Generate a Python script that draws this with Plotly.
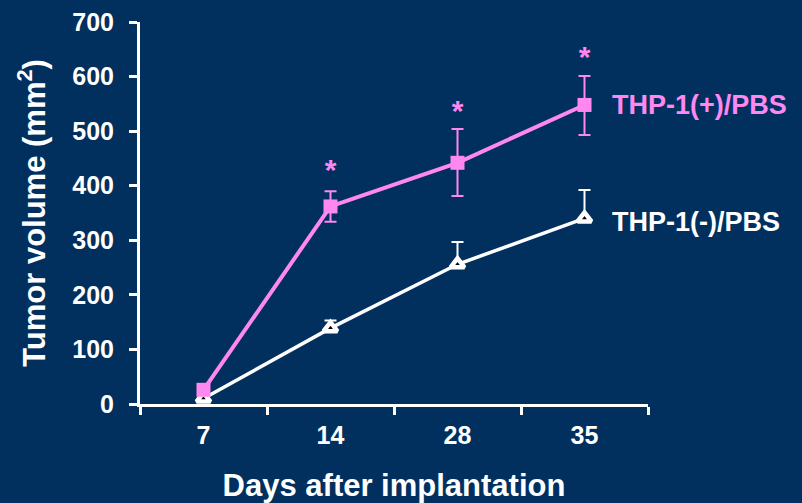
import plotly.graph_objects as go

days = ["7", "14", "28", "35"]
hidden_labels = ["10", "20", "30", "40"]
pos_mean = [26, 362, 442, 548]
pos_err_up = [0, 28, 62, 53]
pos_err_down = [0, 28, 61, 55]
neg_mean = [10, 139, 256, 340]
neg_err_up = [0, 14, 41, 52]
star_y = [425, 533, 631]
star_days = ["14", "28", "35"]

BG = "#01305f"
PINK = "#ff88f0"
FONT = "Liberation Sans, Arial, sans-serif"

fig = go.Figure()
fig.add_trace(go.Scatter(
    x=days, y=neg_mean, mode="lines+markers",
    line=dict(color="white", width=3.5),
    marker=dict(symbol="triangle-up", size=12, color="black",
                line=dict(color="white", width=4.5)),
    error_y=dict(type="data", symmetric=False, array=neg_err_up,
                 arrayminus=[0] * 4, color="white", thickness=2, width=6),
    showlegend=False))
fig.add_trace(go.Scatter(
    x=days, y=pos_mean, mode="lines+markers",
    line=dict(color=PINK, width=4),
    marker=dict(symbol="square", size=14, color=PINK),
    error_y=dict(type="data", symmetric=False, array=pos_err_up,
                 arrayminus=pos_err_down, color=PINK, thickness=2, width=6),
    showlegend=False))
fig.add_trace(go.Scatter(
    x=star_days, y=star_y, mode="text", text=["<b>*</b>"] * 3,
    textfont=dict(color=PINK, size=30, family=FONT),
    showlegend=False))

for i, lab in enumerate(hidden_labels):
    fig.add_annotation(x=days[i], y=0, xref="x", yref="y", text="<b>" + lab + "</b>",
                       showarrow=False, yshift=-41, xshift=-6,
                       font=dict(color="#0b2375", size=25, family=FONT))

fig.add_annotation(x=1.0, xref="paper", y=pos_mean[-1], yref="y",
                   text="<b>THP-1(+)/PBS</b>", showarrow=False,
                   xanchor="left", xshift=-38,
                   font=dict(color=PINK, size=27, family=FONT))
fig.add_annotation(x=1.0, xref="paper", y=neg_mean[-1], yref="y",
                   text="<b>THP-1(-)/PBS</b>", showarrow=False,
                   xanchor="left", xshift=-38, yshift=-4,
                   font=dict(color="white", size=27, family=FONT))

fig.update_layout(
    width=802, height=503,
    paper_bgcolor=BG, plot_bgcolor=BG,
    margin=dict(l=140, r=154, t=22, b=99),
    font=dict(family=FONT, color="white"),
    xaxis=dict(
        type="category", range=[-0.5, 3.5], automargin=False,
        showgrid=False, zeroline=False,
        showline=True, linecolor="white", linewidth=3,
        ticks="outside", tickson="boundaries", ticklen=8, tickwidth=3,
        tickcolor="white", ticklabelstandoff=7,
        tickfont=dict(size=25, color="white", family=FONT),
        tickprefix="<b>", ticksuffix="</b>",
        title=dict(text="<b>Days after implantation</b>",
                   font=dict(size=31, color="white", family=FONT), standoff=27),
    ),
    yaxis=dict(
        range=[0, 700], dtick=100, automargin=False,
        showgrid=False, zeroline=False,
        showline=True, linecolor="white", linewidth=3,
        ticks="outside", ticklen=8, tickwidth=3, tickcolor="white",
        ticklabelstandoff=10,
        tickfont=dict(size=25, color="white", family=FONT),
        tickprefix="<b>", ticksuffix="</b>",
        title=dict(text="<b>Tumor volume (mm<sup>2</sup>)</b>",
                   font=dict(size=31, color="white", family=FONT), standoff=18),
    ),
)
fig.write_html("out.html", config={"displayModeBar": False},
               post_script="document.body.style.margin='0';document.body.style.background='#01305f';")
